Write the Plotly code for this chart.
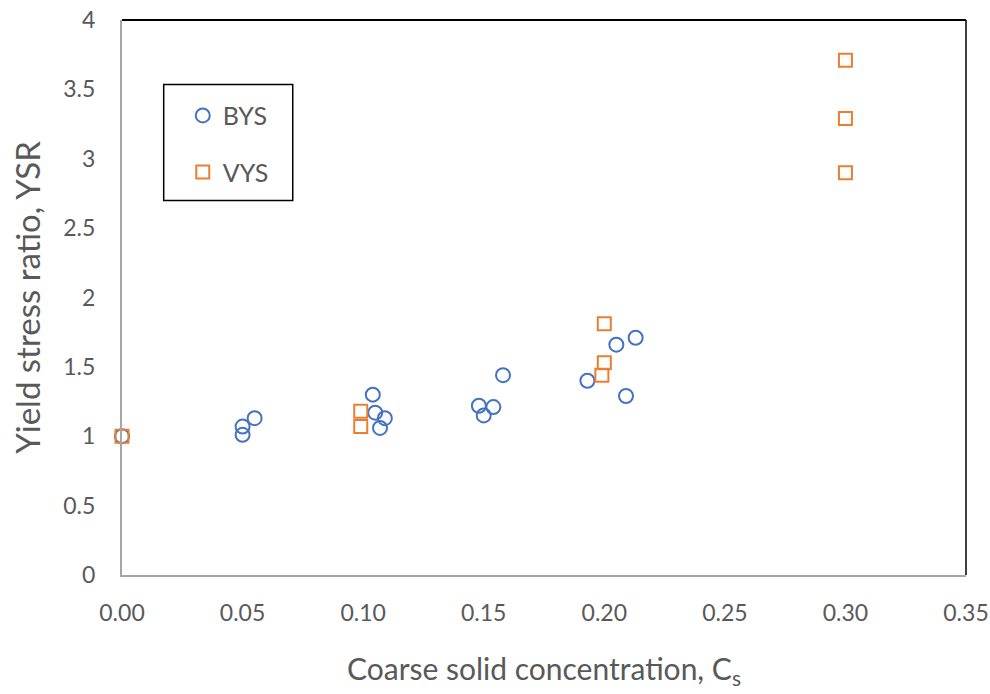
import plotly.graph_objects as go

# Yield stress ratio vs coarse solid concentration
bys_cs = [0.000, 0.050, 0.050, 0.055, 0.104, 0.105, 0.107, 0.109,
          0.148, 0.150, 0.154, 0.158, 0.193, 0.205, 0.209, 0.213]
bys_ysr = [1.00, 1.01, 1.07, 1.13, 1.30, 1.17, 1.06, 1.13,
           1.22, 1.15, 1.21, 1.44, 1.40, 1.66, 1.29, 1.71]

vys_cs = [0.000, 0.099, 0.099, 0.200, 0.200, 0.199, 0.300, 0.300, 0.300]
vys_ysr = [1.00, 1.18, 1.07, 1.81, 1.53, 1.44, 3.71, 3.29, 2.90]

x_ticks = [0.00, 0.05, 0.10, 0.15, 0.20, 0.25, 0.30, 0.35]
y_ticks = [0, 0.5, 1, 1.5, 2, 2.5, 3, 3.5, 4]

FONT = "Liberation Sans Narrow, Lato, sans-serif"
GREY_TXT = "#595959"
BLUE = "#4472C4"
ORANGE = "#ED7D31"

fig = go.Figure()
fig.add_trace(go.Scatter(
    x=bys_cs, y=bys_ysr, mode="markers", name="BYS", legendgroup="bys", cliponaxis=False,
    marker=dict(symbol="circle-open", size=14, color=BLUE, line=dict(width=2, color=BLUE)),
))
fig.add_trace(go.Scatter(
    x=vys_cs, y=vys_ysr, mode="markers", name="VYS", legendgroup="vys", cliponaxis=False,
    marker=dict(symbol="square-open", size=13, color=ORANGE, line=dict(width=2, color=ORANGE)),
))

# top and right frame lines
fig.add_shape(type="line", xref="paper", yref="paper", x0=0, x1=1, y0=1, y1=1,
              line=dict(color="black", width=2))
fig.add_shape(type="line", xref="paper", yref="paper", x0=1, x1=1, y0=0, y1=1,
              line=dict(color="black", width=1.5))
# legend frame
fig.add_shape(type="rect", xref="paper", yref="paper", x0=0.0494, x1=0.2023, y0=0.675, y1=0.884,
              line=dict(color="black", width=1.5), fillcolor="rgba(0,0,0,0)")

fig.update_layout(
    width=990, height=694,
    margin=dict(l=122, r=24, t=20, b=119, autoexpand=False),
    paper_bgcolor="white", plot_bgcolor="white",
    font=dict(family=FONT, color=GREY_TXT, size=23),
    showlegend=True,
    legend=dict(x=0.072, y=0.869, xanchor="left", yanchor="top",
                bgcolor="rgba(0,0,0,0)", borderwidth=0,
                font=dict(size=25, color=GREY_TXT), tracegroupgap=21),
    xaxis=dict(range=[0, 0.35], tickvals=x_ticks, tickformat=".2f", automargin=False,
               showgrid=False, zeroline=False, showline=True, linecolor="#A6A6A6", linewidth=2,
               ticks="", ticklabelstandoff=16,
               tickfont=dict(size=23, color=GREY_TXT),
               title=dict(text="Coarse solid concentration, C<sub>s</sub>",
                          font=dict(size=30, color=GREY_TXT), standoff=34)),
    yaxis=dict(range=[0, 4], tickvals=y_ticks, automargin=False,
               showgrid=False, zeroline=False, showline=True, linecolor="#A6A6A6", linewidth=2,
               ticks="", ticklabelstandoff=20,
               tickfont=dict(size=23, color=GREY_TXT),
               title=dict(text="Yield stress ratio, YSR",
                          font=dict(size=33, color=GREY_TXT), standoff=13)),
)

fig.write_html("out.html")
